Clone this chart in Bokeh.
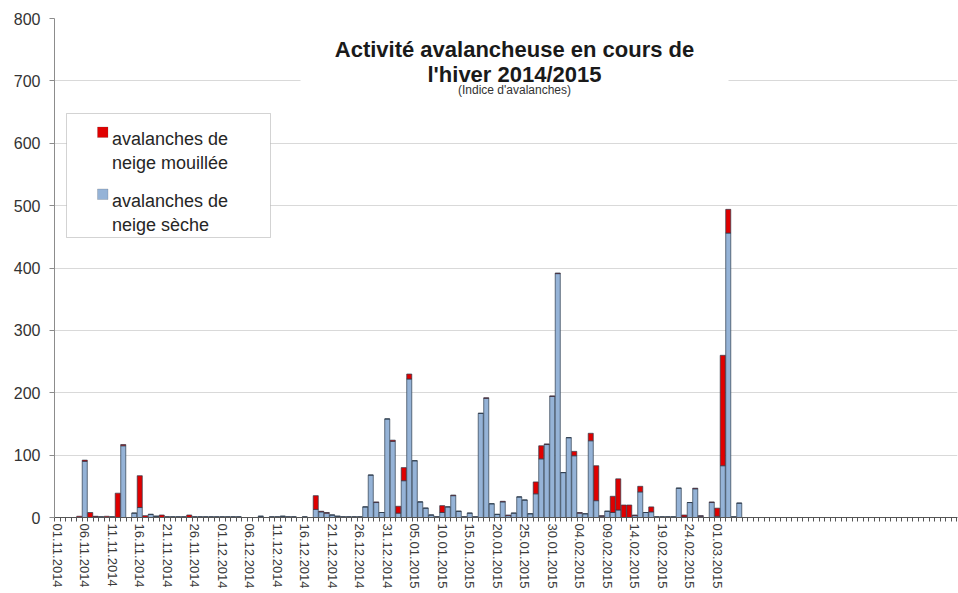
import pandas as pd
from bokeh.plotting import figure
from bokeh.models import ColumnDataSource, FixedTicker, BoxAnnotation, Label, Range1d
from bokeh.embed import file_html
from bokeh.resources import INLINE

# ---------------- data ----------------
start_date = "2014-11-01"
dry = [0, 0, 0, 0, 0, 90, 0, 1, 1, 0,
       1, 0, 115, 0, 7, 16, 0, 5, 2, 0,
       1, 1, 1, 1, 0, 1, 1, 1, 1, 1,
       1, 1, 1, 1, 0, 0, 0, 2, 0, 1,
       1, 2, 1, 1, 0, 1, 0, 13, 9, 7,
       4, 2, 1, 1, 1, 1, 17, 68, 24, 8,
       158, 122, 7, 59, 222, 91, 25, 15, 4, 1,
       8, 17, 35, 10, 1, 7, 1, 167, 191, 22,
       5, 25, 3, 7, 33, 28, 6, 38, 94, 117,
       194, 391, 72, 128, 99, 7, 6, 123, 27, 2,
       10, 8, 12, 0, 0, 3, 41, 8, 9, 1,
       1, 1, 1, 47, 1, 24, 46, 2, 0, 24,
       2, 83, 456, 1, 23]
wet = [0, 0, 0, 0, 2, 2, 8, 1, 0, 2,
       0, 39, 2, 0, 0, 51, 3, 0, 0, 4,
       0, 0, 0, 0, 4, 0, 0, 0, 0, 0,
       0, 0, 0, 0, 0, 0, 0, 0, 0, 0,
       0, 0, 0, 0, 0, 0, 0, 22, 1, 1,
       0, 0, 0, 0, 0, 0, 0, 0, 1, 0,
       0, 2, 11, 21, 8, 0, 0, 0, 0, 0,
       11, 0, 1, 0, 0, 0, 0, 0, 1, 0,
       0, 1, 1, 0, 0, 0, 0, 19, 21, 1,
       1, 1, 0, 0, 7, 1, 0, 12, 56, 1,
       0, 26, 50, 20, 20, 1, 9, 0, 8, 0,
       0, 0, 0, 0, 3, 0, 1, 1, 0, 1,
       13, 177, 38, 0, 0]
tick_days = [0, 5, 10, 15, 20, 25, 30, 35, 40, 45, 50, 55, 60,
             65, 70, 75, 80, 85, 90, 95, 100, 105, 110, 115, 120]
tick_labels = ["01.11.2014", "06.11.2014", "11.11.2014", "16.11.2014", "21.11.2014",
               "26.11.2014", "01.12.2014", "06.12.2014", "11.12.2014", "16.12.2014",
               "21.12.2014", "26.12.2014", "31.12.2014", "05.01.2015", "10.01.2015",
               "15.01.2015", "20.01.2015", "25.01.2015", "30.01.2015", "04.02.2015",
               "09.02.2015", "14.02.2015", "19.02.2015", "24.02.2015", "01.03.2015"]
y_ticks = [0, 100, 200, 300, 400, 500, 600, 700, 800]
title_lines = ["Activité avalancheuse en cours de", "l'hiver 2014/2015"]
subtitle = "(Indice d'avalanches)"
legend_wet = ["avalanches de", "neige mouillée"]
legend_dry = ["avalanches de", "neige sèche"]

dates = pd.date_range(start_date, periods=len(dry), freq="D")
source = ColumnDataSource(dict(day=list(range(len(dry))), dry=dry, wet=wet,
                               date=[d.strftime("%d.%m.%Y") for d in dates]))

# ---------------- layout ----------------
W, H = 958, 593
LEFT, TOP, BOTTOM, RIGHT = 54, 18, 76, 1
PX_DAY = 5.5
frame_w = W - LEFT - RIGHT
frame_h = H - TOP - BOTTOM
x_end = -0.5 + frame_w / PX_DAY
YMAX = 800

# page pixel -> data helpers
def xd(px):
    return -0.5 + (px - LEFT) / PX_DAY

def yd(py):
    return (TOP + frame_h - py) * YMAX / frame_h

BLUE = "#95b3d7"
RED = "#e00000"
FONT = "Liberation Sans"

p = figure(width=W, height=H, output_backend="svg", toolbar_location=None,
           x_range=Range1d(-0.5, x_end), y_range=Range1d(0, YMAX),
           min_border_left=LEFT, min_border_right=RIGHT,
           min_border_top=TOP, min_border_bottom=BOTTOM)
p.outline_line_color = None
p.background_fill_color = "white"

p.vbar_stack(["dry", "wet"], x="day", width=0.92, color=[BLUE, RED],
             line_color="#2d3b4c", line_width=0.7, source=source)

# axes
xa = p.xaxis[0]
xa.ticker = FixedTicker(ticks=tick_days,
                        minor_ticks=[i - 0.5 for i in range(0, int(x_end) + 2)])
xa.major_label_overrides = {d: t for d, t in zip(tick_days, tick_labels)}
xa.major_label_orientation = "vertical"
xa.major_tick_line_color = None
xa.major_tick_out = 4
xa.major_tick_in = 0
xa.minor_tick_out = 4
xa.minor_tick_in = 0
xa.minor_tick_line_color = "#555555"
xa.axis_line_color = "#555555"
xa.major_label_standoff = 2
xa.major_label_text_font = FONT
xa.major_label_text_font_size = "13px"
xa.major_label_text_color = "#3a3a3a"

ya = p.yaxis[0]
ya.ticker = FixedTicker(ticks=y_ticks)
ya.axis_line_color = "#8c8c8c"
ya.major_tick_line_color = "#8c8c8c"
ya.major_tick_out = 5
ya.major_tick_in = 0
ya.minor_tick_line_color = None
ya.major_label_standoff = 9
ya.major_label_text_font = FONT
ya.major_label_text_font_size = "16px"
ya.major_label_text_color = "#333333"

p.xgrid.grid_line_color = None
p.ygrid.grid_line_color = "#d9d9d9"
p.ygrid.ticker = FixedTicker(ticks=y_ticks)

# title box
p.add_layout(BoxAnnotation(left=xd(300), right=xd(728), top=yd(6), bottom=yd(100),
                           fill_color="white", fill_alpha=1, line_color=None))
title_ys = [48.5, 74]
for txt, ty in zip(title_lines, title_ys):
    p.add_layout(Label(x=xd(514), y=yd(ty), text=txt, text_align="center",
                       text_baseline="alphabetic", text_font=FONT,
                       text_font_style="bold", text_font_size="22px",
                       text_color="#1a1a1a"))
p.add_layout(Label(x=xd(514), y=yd(89.5), text=subtitle, text_align="center",
                   text_baseline="alphabetic", text_font=FONT,
                   text_font_size="12px", text_color="#333333"))

# legend
p.add_layout(BoxAnnotation(left=xd(66), right=xd(270), top=yd(113), bottom=yd(237),
                           fill_color="white", fill_alpha=1,
                           line_color="#6e6e6e", line_width=1))
for color, top_px in [(RED, 126.5), (BLUE, 188.5)]:
    p.add_layout(BoxAnnotation(left=xd(97), right=xd(107.5), top=yd(top_px),
                               bottom=yd(top_px + 10.5), fill_color=color,
                               fill_alpha=1, line_color="#505050", line_width=0.7))
for lines, base in [(legend_wet, 138.3), (legend_dry, 200)]:
    for i, txt in enumerate(lines):
        p.add_layout(Label(x=xd(111.5), y=yd(base + 24 * i), text=txt,
                           text_align="left", text_baseline="alphabetic",
                           text_font=FONT, text_font_size="18px",
                           text_color="#262626"))

open("out.html", "w").write(file_html(p, INLINE))
